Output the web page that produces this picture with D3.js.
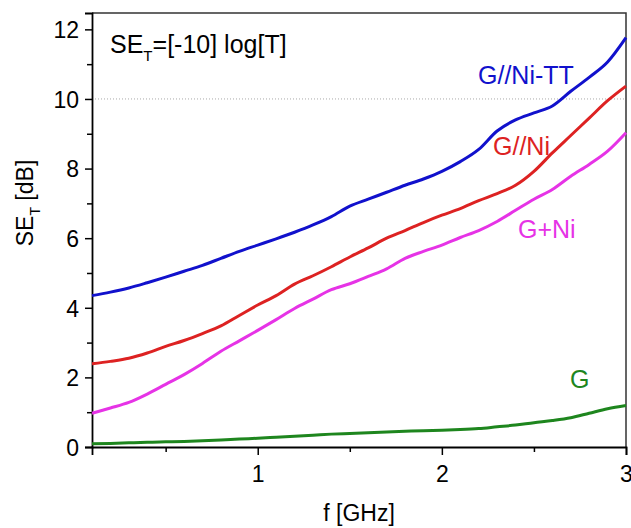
<!DOCTYPE html>
<html>
<head>
<meta charset="utf-8">
<script src="https://cdn.jsdelivr.net/npm/d3@7"></script>
<style>
  body { margin: 0; background: #fff; }
  svg text { font-family: "Liberation Sans", Arial, sans-serif; }
</style>
</head>
<body>
<svg id="chart" width="631" height="528"></svg>
<script>
// DATA
const freq = [0.1, 0.2, 0.3, 0.4, 0.5, 0.6, 0.7, 0.8, 0.9, 1.0,
    1.1, 1.2, 1.3, 1.4, 1.5, 1.6, 1.7, 1.8, 1.9, 2.0,
    2.1, 2.2, 2.3, 2.4, 2.5, 2.6, 2.7, 2.8, 2.9, 3.0];

const seNiTT = [4.35, 4.45, 4.57, 4.72, 4.88, 5.05, 5.22, 5.42, 5.62, 5.80,
    5.98, 6.17, 6.38, 6.62, 6.92, 7.12, 7.32, 7.52, 7.70, 7.92,
    8.20, 8.55, 9.08, 9.40, 9.60, 9.80, 10.22, 10.62, 11.06, 11.76];

const seNi = [2.39, 2.46, 2.55, 2.70, 2.89, 3.06, 3.26, 3.48, 3.78, 4.08,
    4.35, 4.68, 4.92, 5.18, 5.46, 5.72, 6.00, 6.22, 6.45, 6.66,
    6.85, 7.08, 7.28, 7.52, 7.92, 8.45, 8.95, 9.45, 9.95, 10.37];

const seGNi = [0.97, 1.12, 1.28, 1.52, 1.80, 2.08, 2.40, 2.75, 3.05, 3.35,
    3.66, 3.98, 4.25, 4.52, 4.69, 4.90, 5.12, 5.42, 5.62, 5.80,
    6.02, 6.22, 6.48, 6.80, 7.12, 7.40, 7.78, 8.12, 8.50, 9.03];

const seG = [0.09, 0.10, 0.12, 0.14, 0.15, 0.16, 0.18, 0.20, 0.23, 0.25,
    0.28, 0.31, 0.34, 0.37, 0.39, 0.41, 0.43, 0.45, 0.47, 0.48,
    0.50, 0.53, 0.58, 0.63, 0.70, 0.76, 0.84, 0.97, 1.10, 1.19];

const seriesNames = ["G//Ni-TT", "G//Ni", "G+Ni", "G"];
const seriesColors = ["#1111cc", "#dd2222", "#e633e6", "#1e861e"];
const xTicks = [1, 2, 3];
const xMinor = [0.5, 1.5, 2.5];
const yTicks = [0, 2, 4, 6, 8, 10, 12];
const yMinor = [1, 3, 5, 7, 9, 11];

const svg = d3.select("#chart"),
    width = +svg.attr("width"),
    height = +svg.attr("height"),
    margin = { top: 13, right: 5, bottom: 81, left: 92 };

const innerWidth = width - margin.left - margin.right;
const innerHeight = height - margin.top - margin.bottom;

const g = svg.append("g").attr("transform", `translate(${margin.left},${margin.top})`);

const x = d3.scaleLinear().domain([0.1, 3]).range([0, innerWidth]);
const y = d3.scaleLinear().domain([0, 12.47]).range([innerHeight, 0]);

// dotted reference line at 10 dB
g.append("line")
    .attr("x1", 0).attr("x2", innerWidth)
    .attr("y1", y(10)).attr("y2", y(10))
    .attr("stroke", "#aaa")
    .attr("stroke-width", 1)
    .attr("stroke-dasharray", "1,2");

// frame top/right
g.append("path")
    .attr("d", `M0,0H${innerWidth}V${innerHeight}`)
    .attr("fill", "none")
    .attr("stroke", "#333")
    .attr("stroke-width", 1.5);

// axes
const xAxis = g.append("g")
    .attr("transform", `translate(0,${innerHeight})`)
    .call(d3.axisBottom(x).tickValues(xTicks).tickFormat(d3.format("d")).tickSize(8).tickPadding(11));

g.append("g")
    .attr("transform", `translate(0,${innerHeight})`)
    .call(d3.axisBottom(x).tickValues(xMinor).tickFormat("").tickSize(5))
    .call(a => a.select(".domain").remove());

const yAxis = g.append("g")
    .call(d3.axisLeft(y).tickValues(yTicks).tickFormat(d3.format("d")).tickSize(7).tickPadding(6));

g.append("g")
    .call(d3.axisLeft(y).tickValues(yMinor).tickFormat("").tickSize(5))
    .call(a => a.select(".domain").remove());

g.selectAll(".domain").attr("stroke", "#000").attr("stroke-width", 1.8);
g.selectAll(".tick line").attr("stroke", "#000").attr("stroke-width", 1.5);
g.selectAll(".tick text").attr("font-size", 23).attr("fill", "#000");
yAxis.selectAll(".tick text").attr("dy", "0.36em");
xAxis.selectAll(".tick text").attr("dy", "0.71em");

// lines
const allSeries = [seNiTT, seNi, seGNi, seG];
const line = d3.line()
    .x((d, i) => x(freq[i]))
    .y(d => y(d))
    .curve(d3.curveMonotoneX);

g.selectAll(".series")
    .data(allSeries)
    .join("path")
    .attr("class", "series")
    .attr("d", d => line(d))
    .attr("fill", "none")
    .attr("stroke", (d, i) => seriesColors[i])
    .attr("stroke-width", 3)
    .attr("stroke-linejoin", "round");

// series labels
const labelPos = [[478, 84], [493, 155], [518, 238], [570, 388]];
svg.selectAll(".label")
    .data(seriesNames)
    .join("text")
    .attr("class", "label")
    .attr("x", (d, i) => labelPos[i][0])
    .attr("y", (d, i) => labelPos[i][1])
    .attr("font-size", 25)
    .attr("fill", (d, i) => seriesColors[i])
    .text(d => d);

// formula annotation
const ann = svg.append("text")
    .attr("x", 110)
    .attr("y", 53)
    .attr("font-size", 25)
    .attr("fill", "#000");
ann.append("tspan").text("SE");
ann.append("tspan").attr("font-size", 15).attr("dy", 8).text("T");
ann.append("tspan").attr("dy", -8).text("=[-10] log[T]");

// axis titles
svg.append("text")
    .attr("x", margin.left + innerWidth / 2)
    .attr("y", 521)
    .attr("text-anchor", "middle")
    .attr("font-size", 23)
    .attr("fill", "#000")
    .text("f [GHz]");

const yt = svg.append("text")
    .attr("transform", "translate(33,203) rotate(-90)")
    .attr("text-anchor", "middle")
    .attr("font-size", 23)
    .attr("fill", "#000");
yt.append("tspan").text("SE");
yt.append("tspan").attr("font-size", 14).attr("dy", 7).text("T");
yt.append("tspan").attr("dy", -7).text(" [dB]");
</script>
</body>
</html>
